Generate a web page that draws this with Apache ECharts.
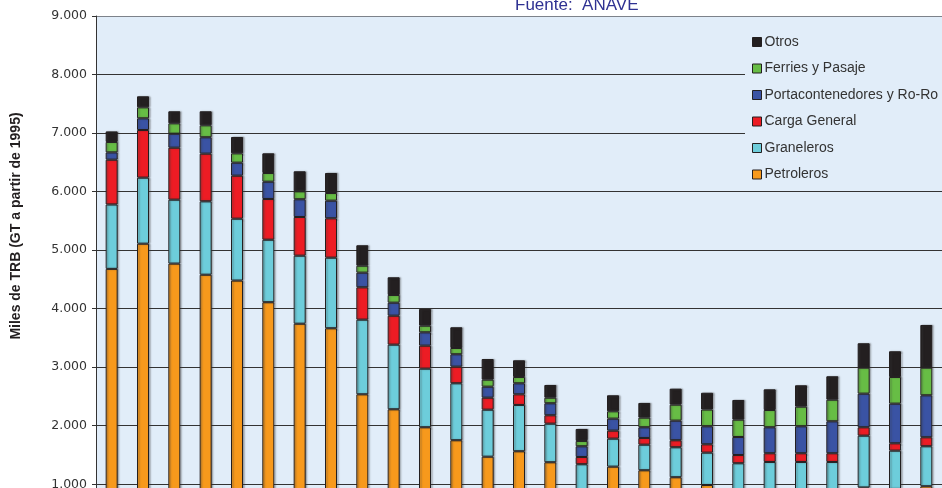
<!DOCTYPE html>
<html>
<head>
<meta charset="utf-8">
<script src="https://cdn.jsdelivr.net/npm/echarts@6/dist/echarts.min.js"></script>
<style>
  html, body { margin: 0; padding: 0; background: #ffffff; }
  #chart { width: 942px; height: 488px; }
</style>
</head>
<body>
<div id="chart"></div>
<script>
// Flota mercante controlada por navieros españoles, miles de TRB (GT desde 1995)
const years = ['1980','1981','1982','1983','1984','1985','1986','1987','1988','1989',
  '1990','1991','1992','1993','1994','1995','1996','1997','1998','1999',
  '2000','2001','2002','2003','2004','2005','2006'];

const petroleros = [4680,5110,4770,4580,4480,4110,3743,3665,2537,2281,1974,1752,1471,1564,1376,840,1301,1239,1120,988,850,880,900,880,945,920,966];
const graneleros = [1100,1128,1092,1254,1057,1068,1162,1206,1275,1104,1001,973,803,791,659,502,478,437,512,552,509,501,481,501,885,654,683];
const cargaGeneral = [765,814,888,814,735,696,661,673,553,495,393,284,205,182,144,124,137,115,120,143,141,149,149,149,144,126,154];
const portacontenedores = [125,200,239,280,222,295,303,301,250,222,228,212,188,188,205,183,205,183,335,308,308,444,461,546,574,677,717];
const ferries = [178,188,178,205,160,149,136,131,119,132,113,107,120,108,95,91,126,164,273,286,296,295,335,369,444,456,472];
const otros = [180,188,205,239,279,336,342,342,349,302,286,354,353,285,217,205,273,251,273,286,336,353,365,400,417,439,729];

const yTicks = { min: 0, max: 9000, interval: 1000 };

const seriesDefs = [
  { name: 'Petroleros', data: petroleros, color: '#f7991c' },
  { name: 'Graneleros', data: graneleros, color: '#6dcddb' },
  { name: 'Carga General', data: cargaGeneral, color: '#ed1c24' },
  { name: 'Portacontenedores y Ro-Ro', data: portacontenedores, color: '#3a53a4' },
  { name: 'Ferries y Pasaje', data: ferries, color: '#67bd45' },
  { name: 'Otros', data: otros, color: '#231f20' }
];

const fontFamily = '"Liberation Sans", Arial, Helvetica, sans-serif';

const chart = echarts.init(document.getElementById('chart'), null, { renderer: 'canvas' });

chart.setOption({
  animation: false,
  backgroundColor: '#ffffff',
  title: {
    text: 'Fuente:  ANAVE',
    left: 515,
    top: -3,
    padding: 0,
    textStyle: {
      fontFamily: '"Liberation Sans Narrow", "Arial Narrow", ' + fontFamily,
      fontSize: 17,
      fontWeight: 'normal',
      color: '#2e3192'
    }
  },
  grid: {
    left: 96,
    top: 16,
    width: 846,
    height: 526.8,
    outerBoundsMode: 'none',
    containLabel: false,
    show: true,
    backgroundColor: '#e1edf9',
    borderWidth: 0
  },
  legend: {
    orient: 'vertical',
    left: 745,
    top: 28,
    padding: [7, 8, 6, 7],
    backgroundColor: '#e1edf9',
    itemWidth: 9,
    itemHeight: 9,
    itemGap: 12.5,
    icon: 'rect',
    itemStyle: { borderColor: '#231f20', borderWidth: 1 },
    textStyle: { fontFamily: fontFamily, fontSize: 14, color: '#333333', padding: [0, 0, 0, -2] },
    data: seriesDefs.map(s => s.name).reverse()
  },
  xAxis: {
    type: 'category',
    data: years,
    axisLine: { show: false },
    axisTick: { show: false },
    axisLabel: { show: false }
  },
  yAxis: {
    type: 'value',
    min: yTicks.min,
    max: yTicks.max,
    interval: yTicks.interval,
    axisLine: { show: true, lineStyle: { color: '#333333', width: 1 } },
    axisTick: { show: true, length: 4, lineStyle: { color: '#333333' } },
    axisLabel: {
      margin: 9,
      fontFamily: '"DejaVu Sans", Verdana, sans-serif',
      fontSize: 12.5,
      color: '#333333',
      formatter: v => v.toLocaleString('de-DE')
    },
    splitLine: {
      show: true,
      lineStyle: {
        color: ['#333333','#333333','#333333','#333333','#333333','#333333','#333333','#333333','#333333','#7d828a'],
        width: 1.2
      }
    }
  },
  graphic: [{
    type: 'text',
    x: 16,
    y: 226,
    rotation: Math.PI / 2,
    style: {
      text: 'Miles de TRB (GT a partir de 1995)',
      fontFamily: fontFamily,
      fontSize: 14,
      fontWeight: 'bold',
      fill: '#231f20',
      align: 'center',
      verticalAlign: 'middle'
    }
  }],
  series: seriesDefs.map(s => ({
    name: s.name,
    type: 'bar',
    stack: 'flota',
    barWidth: 12,
    data: s.data,
    itemStyle: {
      color: s.color,
      borderColor: '#231f20',
      borderWidth: 1,
      shadowColor: 'rgba(60,60,60,0.45)',
      shadowOffsetX: 1.5,
      shadowOffsetY: 0,
      shadowBlur: 1.5
    }
  }))
});
</script>
</body>
</html>
